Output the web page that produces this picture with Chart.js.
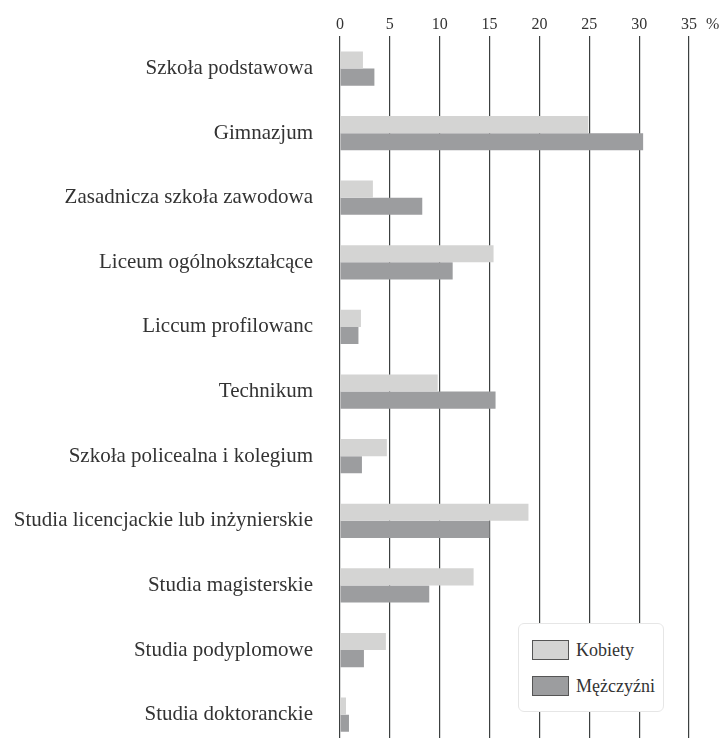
<!DOCTYPE html>
<html>
<head>
<meta charset="utf-8">
<script src="https://cdn.jsdelivr.net/npm/chart.js@4/dist/chart.umd.min.js"></script>
<style>
  html, body { margin: 0; padding: 0; background: #fff; overflow: hidden; }
  #wrap { position: relative; width: 724px; height: 747px; }
  #legend {
    position: absolute; left: 518px; top: 623px; width: 144px; height: 87px;
    background: #fff; border: 1px solid #e6e6e6; border-radius: 6px;
    font-family: "Liberation Serif", "DejaVu Serif", serif; font-size: 18px; color: #333;
  }
  .item { position: absolute; left: 13px; height: 20px; line-height: 20px; white-space: nowrap; }
  .sw { display: inline-block; width: 35px; height: 18px; border: 1px solid #555; vertical-align: top; margin-right: 7px; }
</style>
</head>
<body>
<div id="wrap">
  <canvas id="myChart" width="724" height="747"></canvas>
  <div id="legend"></div>
</div>
<script>
const categories = [
  "Szkoła podstawowa",
  "Gimnazjum",
  "Zasadnicza szkoła zawodowa",
  "Liceum ogólnokształcące",
  "Liccum profilowanc",
  "Technikum",
  "Szkoła policealna i kolegium",
  "Studia licencjackie lub inżynierskie",
  "Studia magisterskie",
  "Studia podyplomowe",
  "Studia doktoranckie"
];
const kobiety = [2.3, 24.9, 3.3, 15.4, 2.1, 9.8, 4.7, 18.9, 13.4, 4.6, 0.6];
const mezczyzni = [3.45, 30.4, 8.25, 11.3, 1.85, 15.6, 2.2, 15.0, 8.95, 2.4, 0.9];
const xTicks = [0, 5, 10, 15, 20, 25, 30, 35];
const seriesNames = ["Kobiety", "Mężczyźni"];
const seriesColors = ["#d4d4d3", "#9c9d9f"];

const serif = '"Liberation Serif", "DejaVu Serif", serif';

// draws the "%" unit after the last tick label
const unitPlugin = {
  id: "unit",
  afterDraw(chart) {
    const x = chart.scales.x;
    const ctx = chart.ctx;
    ctx.save();
    ctx.font = "16px " + serif;
    ctx.fillStyle = "#333";
    ctx.textBaseline = "middle";
    ctx.fillText("%", x.getPixelForValue(xTicks[xTicks.length - 1]) + 17, chart.chartArea.top - 11.6);
    ctx.restore();
  }
};

new Chart(document.getElementById("myChart").getContext("2d"), {
  type: "bar",
  data: {
    labels: categories,
    datasets: [
      { label: seriesNames[0], data: kobiety, backgroundColor: seriesColors[0] },
      { label: seriesNames[1], data: mezczyzni, backgroundColor: seriesColors[1] }
    ]
  },
  options: {
    indexAxis: "y",
    responsive: false,
    animation: false,
    categoryPercentage: 0.53,
    barPercentage: 1,
    layout: { padding: { top: 13, right: 35, left: 0, bottom: 0 } },
    plugins: { legend: { display: false }, tooltip: { enabled: false } },
    scales: {
      x: {
        position: "top",
        min: 0,
        max: 35,
        afterBuildTicks: (s) => { s.ticks = xTicks.map(v => ({ value: v })); },
        grid: { color: "#3c4040", lineWidth: 1.2, drawTicks: false },
        border: { display: false },
        ticks: { padding: 2, color: "#333", font: { family: serif, size: 16 } }
      },
      y: {
        grid: { display: false },
        border: { display: false },
        afterFit: (s) => { s.width = 340; s.paddingTop = 0; s.paddingBottom = 0; },
        ticks: { padding: 19, color: "#333", font: { family: serif, size: 21 } }
      }
    }
  },
  plugins: [unitPlugin]
});

const legend = document.getElementById("legend");
seriesNames.forEach((name, i) => {
  const d = document.createElement("div");
  d.className = "item";
  d.style.top = (16 + i * 36) + "px";
  d.innerHTML = '<span class="sw" style="background:' + seriesColors[i] + '"></span>' + name;
  legend.appendChild(d);
});
</script>
</body>
</html>
